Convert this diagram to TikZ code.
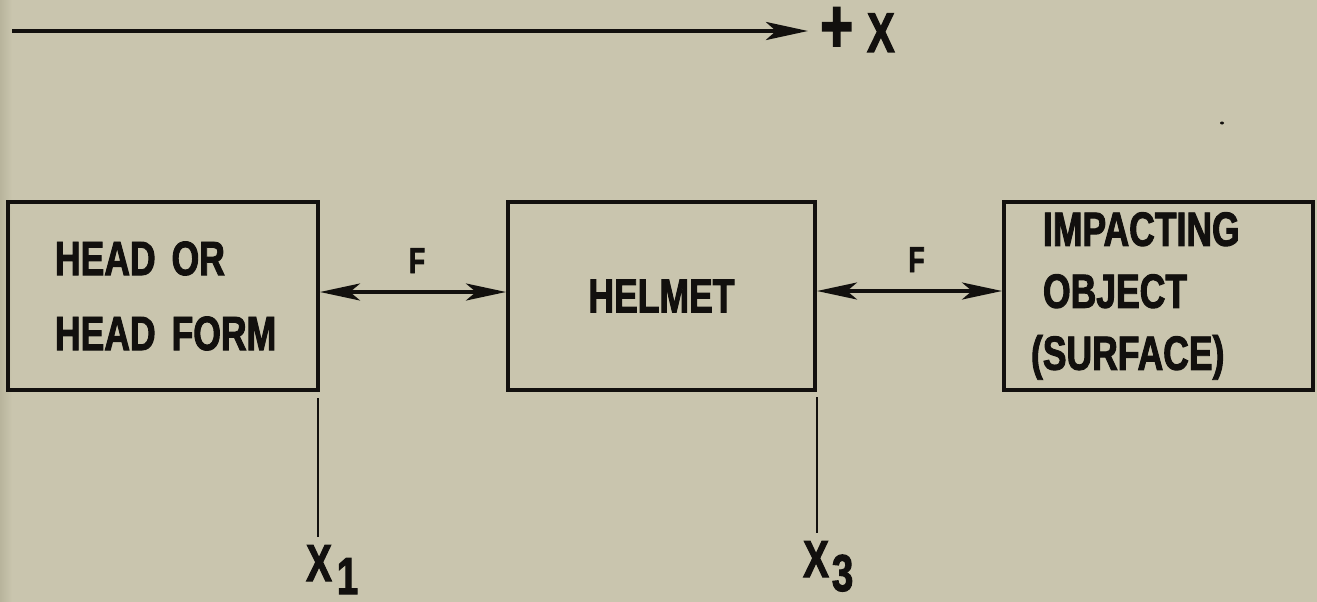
\documentclass[tikz,border=0pt]{standalone}
\usepackage{fontspec}
\newfontfamily\lfont{Liberation Sans}[FakeStretch=0.74,FakeBold=2]
\usetikzlibrary{arrows.meta,calc}
\definecolor{paper}{RGB}{201,197,174}
\definecolor{paperdark}{RGB}{184,180,156}
\definecolor{ink}{RGB}{18,16,14}
\begin{document}
\begin{tikzpicture}[x=1pt,y=-1pt,
  box/.style={draw=ink, line width=4pt, minimum height=188pt, inner ysep=0pt,
    font={\lfont\bfseries\fontsize{48}{75}\selectfont}, text=ink, align=left},
  force/.style={draw=ink, line width=3.5pt,
    {Stealth[length=40pt,width=17pt,inset=10pt]}-{Stealth[length=40pt,width=17pt,inset=10pt]}},
  axis/.style={draw=ink, line width=4.5pt, -{Stealth[length=42pt,width=18pt,inset=10pt]}},
  flab/.style={font={\lfont\bfseries\fontsize{36}{36}\selectfont}, text=ink, inner sep=0pt},
  lab/.style={font={\lfont\bfseries\fontsize{52}{52}\selectfont}, text=ink, inner sep=0pt},
  tick/.style={draw=ink, line width=2.5pt}]
\fill[paper] (0,0) rectangle (1317,602);
\shade[left color=paperdark, right color=paper] (0,0) rectangle (12,602);
\useasboundingbox (0,0) rectangle (1317,602);

% boxes
\node[box, minimum width=310pt, text width=216pt, inner xsep=47pt] (head) at (163,296) {HEAD~OR\\HEAD~FORM};
\node[box, minimum width=307pt, align=center] (helmet) at (661.5,296) {HELMET};
\node[box, minimum width=309pt, text width=231pt, inner xsep=39pt,
  font={\lfont\bfseries\fontsize{48}{62}\selectfont}] (impact) at (1158.5,296) {IMPACTING\\OBJECT\\\hspace*{-12pt}(SURFACE)};

% force arrows
\draw[force] ([yshift=4pt]head.east) -- ([yshift=4pt]helmet.west)
  node[flab, midway, anchor=base, yshift=19pt, xshift=4pt] (f1) {F};
\draw[force] ([yshift=5pt]helmet.east) -- ([yshift=5pt]impact.west)
  node[flab, midway, anchor=base, yshift=19pt, xshift=7pt] (f2) {F};

% +X axis
\coordinate (xstart) at (12,31);
\node[lab, anchor=base west, font={\lfont\bfseries\fontsize{56}{56}\selectfont}] (plusx) at (820,52)
  {{\fontsize{76}{76}\selectfont +}\hspace{14pt}X};
\draw[axis, shorten >=12pt] (xstart) -- (xstart -| plusx.west);

% position markers
\coordinate (x1top) at (318,398);
\node[lab, anchor=base west] (x1) at (306,581) {X\hspace{5pt}\raisebox{-13pt}{1}};
\draw[tick, shorten >=8pt] (x1top) -- (x1top |- x1.north);

\coordinate (x3top) at (817,397);
\node[lab, anchor=base west] (x3) at (803,577) {X\hspace{3pt}\raisebox{-14pt}{3}};
\draw[tick, shorten >=8pt] (x3top) -- (x3top |- x3.north);

% speck
\fill[ink] (1222,123) ellipse (2pt and 1.5pt);
\end{tikzpicture}
\end{document}
